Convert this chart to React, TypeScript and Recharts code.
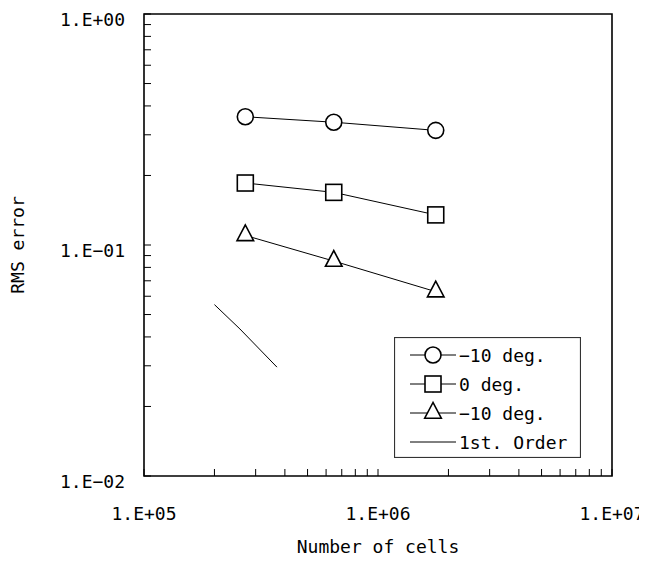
import { LineChart, Line, XAxis, YAxis, ReferenceArea, Legend } from 'recharts'

const FONT = '"DejaVu Sans Mono", monospace'

// grid resolutions (number of cells) and RMS errors
const CELLS = [2.71e5, 6.47e5, 1.765e6]
const ERR_PLUS10 = [0.359, 0.34, 0.3135]
const ERR_ZERO = [0.1855, 0.169, 0.135]
const ERR_MINUS10 = [0.11, 0.0852, 0.0628]
const ORDER1_CELLS = [2.0e5, 2.57e5, 3.7e5]
const ORDER1_ERR = [0.0552, 0.0433, 0.0296]

const SERIES_NAMES = ['−10 deg.', '0 deg.', '−10 deg.', '1st. Order']
const SERIES_SHAPES = ['circle', 'square', 'triangle', 'none']

const X_TICKS = [
  1e5, 2e5, 3e5, 4e5, 5e5, 6e5, 7e5, 8e5, 9e5,
  1e6, 2e6, 3e6, 4e6, 5e6, 6e6, 7e6, 8e6, 9e6, 1e7
]
const Y_TICKS = [
  0.01, 0.02, 0.03, 0.04, 0.05, 0.06, 0.07, 0.08, 0.09,
  0.1, 0.2, 0.3, 0.4, 0.5, 0.6, 0.7, 0.8, 0.9, 1
]
const X_MAJOR = [1e5, 1e6, 1e7]
const X_LABELS = ['1.E+05', '1.E+06', '1.E+07']
const Y_MAJOR = [0.01, 0.1, 1]
const Y_LABELS = ['1.E−02', '1.E−01', '1.E+00']

const toPoints = (xs: number[], ys: number[]) => xs.map((x, i) => ({ x, y: ys[i] }))

const findLabel = (v: number, major: number[], labels: string[]) => {
  const i = major.findIndex((m) => Math.abs(m - v) / m < 1e-6)
  return i >= 0 ? labels[i] : null
}

const Marker = ({ shape, cx, cy }: { shape: string; cx: number; cy: number }) => {
  const st = { fill: '#fff', stroke: '#000', strokeWidth: 1.6 }
  if (shape === 'circle') return <circle cx={cx} cy={cy} r={8} {...st} />
  if (shape === 'square') return <rect x={cx - 8} y={cy - 8} width={16} height={16} {...st} />
  if (shape === 'triangle')
    return (
      <polygon
        points={`${cx},${cy - 10.5} ${cx - 8.3},${cy + 5.2} ${cx + 8.3},${cy + 5.2}`}
        {...st}
      />
    )
  return null
}

const makeDot = (shape: string) => (props: any) => (
  <Marker key={`${shape}-${props.index}`} shape={shape} cx={props.cx} cy={props.cy} />
)

const XTick = (props: any) => {
  const { x, y, payload } = props
  const label = findLabel(payload.value, X_MAJOR, X_LABELS)
  return (
    <g>
      <line x1={x} y1={y} x2={x} y2={y - 7} stroke='#000' strokeWidth={1} />
      {label && (
        <text x={x} y={y + 44} textAnchor='middle' fontSize={18} fontFamily={FONT} fill='#000'>
          {label}
        </text>
      )}
    </g>
  )
}

const YTick = (props: any) => {
  const { x, y, payload } = props
  const label = findLabel(payload.value, Y_MAJOR, Y_LABELS)
  return (
    <g>
      <line x1={x} y1={y} x2={x + 7} y2={y} stroke='#000' strokeWidth={1} />
      {label && (
        <text x={x - 19} y={y + 11.5} textAnchor='end' fontSize={18} fontFamily={FONT} fill='#000'>
          {label}
        </text>
      )}
    </g>
  )
}

const LegendBox = () => (
  <svg width={187} height={121} style={{ display: 'block' }}>
    <rect x={0.5} y={0.5} width={186} height={120} fill='#fff' stroke='#333' strokeWidth={1.2} />
    {SERIES_NAMES.map((name, i) => {
      const cy = 18 + i * 29
      return (
        <g key={i}>
          <line x1={16} y1={cy} x2={62} y2={cy} stroke='#000' strokeWidth={1} />
          <Marker shape={SERIES_SHAPES[i]} cx={39} cy={cy} />
          <text x={65} y={cy + 6.5} fontSize={18} fontFamily={FONT} fill='#000'>
            {name}
          </text>
        </g>
      )
    })}
  </svg>
)

const YTitle = (props: any) => {
  const { viewBox } = props
  const cx = viewBox.x + 16
  const cy = viewBox.y + viewBox.height / 2
  return (
    <text
      x={cx}
      y={cy}
      transform={`rotate(-90 ${cx} ${cy})`}
      textAnchor='middle'
      fontSize={18}
      fontFamily={FONT}
      fill='#000'
    >
      RMS error
    </text>
  )
}

const XTitle = (props: any) => {
  const { viewBox } = props
  return (
    <text
      x={viewBox.x + viewBox.width / 2}
      y={viewBox.y + 77}
      textAnchor='middle'
      fontSize={18}
      fontFamily={FONT}
      fill='#000'
    >
      Number of cells
    </text>
  )
}

const App = () => {
  return (
    <div>
      <style>{`body { overflow: hidden; } .recharts-surface { overflow: visible; }`}</style>
      <LineChart width={639} height={547} margin={{ top: 6, right: 35, bottom: 0, left: 0 }}>
        <XAxis
          type='number'
          dataKey='x'
          scale='log'
          domain={[1e5, 1e7]}
          ticks={X_TICKS}
          interval={0}
          allowDataOverflow
          height={79}
          tickSize={0}
          tickMargin={0}
          axisLine={false}
          tickLine={false}
          tick={<XTick />}
          label={<XTitle />}
        />
        <YAxis
          type='number'
          dataKey='y'
          scale='log'
          domain={[0.01, 1]}
          ticks={Y_TICKS}
          interval={0}
          allowDataOverflow
          width={136}
          tickSize={0}
          tickMargin={0}
          axisLine={false}
          tickLine={false}
          tick={<YTick />}
          label={<YTitle />}
        />
        <ReferenceArea x1={1e5} x2={1e7} y1={0.01} y2={1} fill='none' stroke='#000' strokeWidth={1.6} />
        <Line
          data={toPoints(CELLS, ERR_PLUS10)}
          dataKey='y'
          name={SERIES_NAMES[0]}
          stroke='#000'
          strokeWidth={1}
          dot={makeDot('circle')}
          isAnimationActive={false}
        />
        <Line
          data={toPoints(CELLS, ERR_ZERO)}
          dataKey='y'
          name={SERIES_NAMES[1]}
          stroke='#000'
          strokeWidth={1}
          dot={makeDot('square')}
          isAnimationActive={false}
        />
        <Line
          data={toPoints(CELLS, ERR_MINUS10)}
          dataKey='y'
          name={SERIES_NAMES[2]}
          stroke='#000'
          strokeWidth={1}
          dot={makeDot('triangle')}
          isAnimationActive={false}
        />
        <Line
          data={toPoints(ORDER1_CELLS, ORDER1_ERR)}
          dataKey='y'
          name={SERIES_NAMES[3]}
          stroke='#000'
          strokeWidth={1}
          dot={false}
          isAnimationActive={false}
        />
        <Legend
          layout='vertical'
          align='center'
          verticalAlign='middle'
          content={<LegendBox />}
          wrapperStyle={{ left: 386, top: 329, width: 187, height: 121 }}
        />
      </LineChart>
    </div>
  )
}

export default App
